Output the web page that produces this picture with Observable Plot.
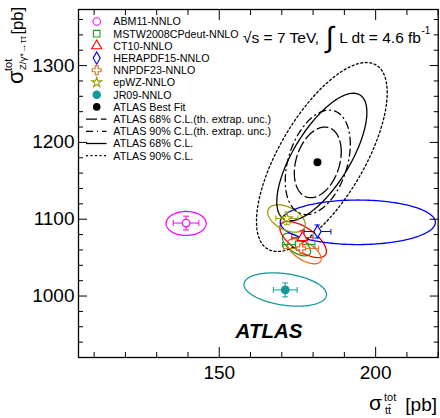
<!DOCTYPE html>
<html><head><meta charset="utf-8">
<script src="https://cdn.jsdelivr.net/npm/d3@7"></script>
<script src="https://cdn.jsdelivr.net/npm/@observablehq/plot@0.6"></script>
<style>
body{margin:0;background:#fff;}
#chart{width:440px;height:418px;}
text{font-family:"Liberation Sans",Arial,Helvetica,sans-serif;}
</style></head><body><div id="chart"></div>
<script>
// ---------- data ----------
const pdfNames   = ["ABM11-NNLO","MSTW2008CPdeut-NNLO","CT10-NNLO","HERAPDF15-NNLO","NNPDF23-NNLO","epWZ-NNLO","JR09-NNLO"];
const pdfColors  = ["#ff00ff","#1c9c1c","#ff0000","#0000ff","#e0701c","#9c9a00","#139b9b"];
const pdfSymbols = ["circle","square","triangle","diamond","cross","star","circle"];
const pdfFilled  = [false,false,false,false,false,false,true];
// predicted cross sections (points) and their error bars
const predTT = [139.4, 175.4, 176.6, 181.4, 176.2, 171.6, 171.1];
const predZ  = [1095, 1067, 1076, 1084, 1062, 1101, 1008];
const errTT  = [4.1, 5.2, 3.4, 4.3, 5.6, 3.5, 3.8];
const errZ   = [9.0, 7.5, 9.0, 8.5, 7.5, 8.2, 9.1];
// PDF uncertainty ellipses: centre, half extents, correlation
const ellTT  = [139.4, 174.7, 176.8, 194.3, 177.2, 171.5, 171.1];
const ellZ   = [1094.5, 1067, 1073.6, 1096, 1058.3, 1101, 1008.5];
const ellDTT = [6.4, 4.5, 7.45, 24.8, 5.4, 6.0, 13.2];
const ellDZ  = [15.6, 14.8, 23.6, 29.0, 16.3, 17.8, 21.7];
const ellRho = [0, -0.6, -0.65, 0, -0.6, -0.45, -0.3];
// ATLAS best fit and its contours
const fitTT = [181.4];
const fitZ  = [1174];
const contNames = ["ATLAS 68% C.L.(th. extrap. unc.)","ATLAS 90% C.L.(th. extrap. unc.)","ATLAS 68% C.L.","ATLAS 90% C.L."];
const contTT  = [181.5, 181.5, 182.8, 182.8];
const contZ   = [1174, 1174, 1181, 1181];
const contDTT = [7.5, 10.4, 14.4, 20.9];
const contDZ  = [46, 68, 83, 123];
const contRho = [0.3, 0.35, 0.7, 0.68];
const contDash = ["11,4", "7,4,1,4", null, "2,2.5"];
// axes
const xMajor = [150, 200];
const xMinor = [110, 120, 130, 140, 160, 170, 180, 190, 210, 220];
const yMajor = [1000, 1100, 1200, 1300];
const yMinor = [940, 960, 980, 1020, 1040, 1060, 1080, 1120, 1140, 1160, 1180, 1220, 1240, 1260, 1280, 1320, 1340, 1360];
const xDomain = [105, 220];
const yDomain = [920, 1373];

// ---------- helpers ----------
function ellipse(id, cx, cy, dx, dy, rho, n = 180) {
  const s = Math.sqrt(1 - rho * rho);
  return d3.range(n + 1).map(i => {
    const t = 2 * Math.PI * i / n;
    return {id, x: cx + dx * Math.cos(t), y: cy + dy * (rho * Math.cos(t) + s * Math.sin(t))};
  });
}
const preds = pdfNames.map((name, i) => ({name, color: pdfColors[i], symbol: pdfSymbols[i], filled: pdfFilled[i],
  x: predTT[i], y: predZ[i], ex: errTT[i], ey: errZ[i]}));
const ellData = pdfNames.flatMap((name, i) => ellipse(name, ellTT[i], ellZ[i], ellDTT[i], ellDZ[i], ellRho[i]))
  .map(d => ({...d, color: pdfColors[pdfNames.indexOf(d.id)]}));

const marks = [];
marks.push(Plot.line(ellData, {x: "x", y: "y", z: "id", stroke: "color", strokeWidth: 1.3, clip: true}));
contNames.forEach((name, i) => {
  marks.push(Plot.line(ellipse(name, contTT[i], contZ[i], contDTT[i], contDZ[i], contRho[i]),
    {x: "x", y: "y", stroke: "black", strokeWidth: 1.3, strokeDasharray: contDash[i], clip: true}));
});
// error bars
marks.push(Plot.link(preds, {x1: d => d.x - d.ex, x2: d => d.x + d.ex, y1: "y", y2: "y", stroke: "color", strokeWidth: 1, markerStart: "tick", markerEnd: "tick"}));
marks.push(Plot.link(preds, {x1: "x", x2: "x", y1: d => d.y - d.ey, y2: d => d.y + d.ey, stroke: "color", strokeWidth: 1, markerStart: "tick", markerEnd: "tick"}));
preds.forEach(p => {
  marks.push(Plot.dot([p], {x: "x", y: "y", symbol: () => p.symbol, r: p.symbol === "star" ? 3.3 : 3.8, stroke: p.color, strokeWidth: 1.2, fill: p.filled ? p.color : "white"}));
});
marks.push(Plot.dot(fitTT.map((x, i) => ({x, y: fitZ[i]})), {x: "x", y: "y", r: 4, fill: "black"}));
// axes: labels and inward ticks on all four sides
const fmt = d => String(d);
marks.push(Plot.axisX(xMajor, {anchor: "bottom", tickSize: 0, tickPadding: 8, fontSize: 19, label: null, tickFormat: fmt}));
marks.push(Plot.axisY(yMajor, {anchor: "left", tickSize: 0, tickPadding: 4, fontSize: 19, label: null, tickFormat: fmt}));
for (const a of ["bottom", "top"]) {
  marks.push(Plot.axisX(xMajor, {anchor: a, tickSize: -10, tickFormat: () => "", label: null}));
  marks.push(Plot.axisX(xMinor, {anchor: a, tickSize: -5, tickFormat: () => "", label: null}));
}
for (const a of ["left", "right"]) {
  marks.push(Plot.axisY(yMajor, {anchor: a, tickSize: -9, tickFormat: () => "", label: null}));
  marks.push(Plot.axisY(yMinor, {anchor: a, tickSize: -5, tickFormat: () => "", label: null}));
}
marks.push(Plot.frame({stroke: "black", strokeWidth: 1.3}));

const plot = Plot.plot({
  width: 440, height: 418,
  marginLeft: 78, marginRight: 2.3, marginTop: 9, marginBottom: 61,
  x: {domain: xDomain},
  y: {domain: yDomain},
  color: {type: "identity"},
  style: {fontFamily: "'Liberation Sans', Arial, Helvetica, sans-serif", color: "black", background: "white"},
  marks
});
document.getElementById("chart").appendChild(plot);

// ---------- annotations: titles, legend ----------
const svg = d3.select(plot);
const ann = svg.append("g").attr("text-anchor", "start");
// x title
const xt = ann.append("g");
xt.append("text").attr("x", 369).attr("y", 410).style("font-size", "21px").text("σ");
xt.append("text").attr("x", 384).attr("y", 401).style("font-size", "11px").text("tot");
xt.append("text").attr("x", 385).attr("y", 413.5).style("font-size", "11px").text("tt̄");
xt.append("text").attr("x", 437).attr("y", 411).attr("text-anchor", "end").style("font-size", "19px").text("[pb]");
// y title (rotated)
const yt = ann.append("g").attr("transform", "translate(23,0) rotate(-90)");
yt.append("text").attr("x", -84).attr("y", 0).style("font-size", "22px").text("σ");
yt.append("text").attr("x", -71).attr("y", -11).style("font-size", "11px").text("tot");
yt.append("text").attr("x", -70).attr("y", 3).style("font-size", "9.5px").text("Z/γ*→ττ");
yt.append("text").attr("x", -7).attr("y", 0).attr("text-anchor", "end").style("font-size", "16.5px").text("[pb]");
// energy / luminosity
const hd = ann.append("g");
hd.append("text").attr("x", 243).attr("y", 42.5).style("font-size", "15.5px").text("√s = 7 TeV,");
hd.append("text").attr("x", 326).attr("y", 47).style("font-size", "29px").text("∫");
hd.append("text").attr("x", 421).attr("y", 42.5).attr("text-anchor", "end").style("font-size", "15.5px").text("L dt = 4.6 fb");
hd.append("text").attr("x", 421.5).attr("y", 34).style("font-size", "10px").text("-1");
// ATLAS label
ann.append("text").attr("x", 269).attr("y", 338).attr("text-anchor", "middle")
  .style("font-size", "20.5px").style("font-weight", "bold").style("font-style", "italic").text("ATLAS");
// legend
const lg = ann.append("g");
const ly0 = 21.5, lstep = 12.2, mx = 96.7, tx = 113.3;
const symMap = {circle: d3.symbolCircle, square: d3.symbolSquare, triangle: d3.symbolTriangle, diamond: d3.symbolDiamond, cross: d3.symbolCross, star: d3.symbolStar};
preds.forEach((p, i) => {
  const y = ly0 + i * lstep;
  const size = p.symbol === "star" ? 30 : 44;
  lg.append("path").attr("transform", `translate(${mx},${y})`)
    .attr("d", d3.symbol(symMap[p.symbol], size)())
    .attr("fill", p.filled ? p.color : "none").attr("stroke", p.color).attr("stroke-width", 1.1);
  lg.append("text").attr("x", tx).attr("y", y).attr("dy", "0.36em").style("font-size", "10.7px").text(p.name);
});
{
  const y = ly0 + 7 * lstep;
  lg.append("circle").attr("cx", mx).attr("cy", y).attr("r", 3.8).attr("fill", "black");
  lg.append("text").attr("x", tx).attr("y", y).attr("dy", "0.36em").style("font-size", "10.7px").text("ATLAS Best Fit");
}
contNames.forEach((name, i) => {
  const y = ly0 + (8 + i) * lstep;
  lg.append("line").attr("x1", 86).attr("x2", 106.5).attr("y1", y).attr("y2", y)
    .attr("stroke", "black").attr("stroke-width", 1.3).attr("stroke-dasharray", contDash[i]);
  lg.append("text").attr("x", tx).attr("y", y).attr("dy", "0.36em").style("font-size", "10.7px").text(name);
});
</script></body></html>
